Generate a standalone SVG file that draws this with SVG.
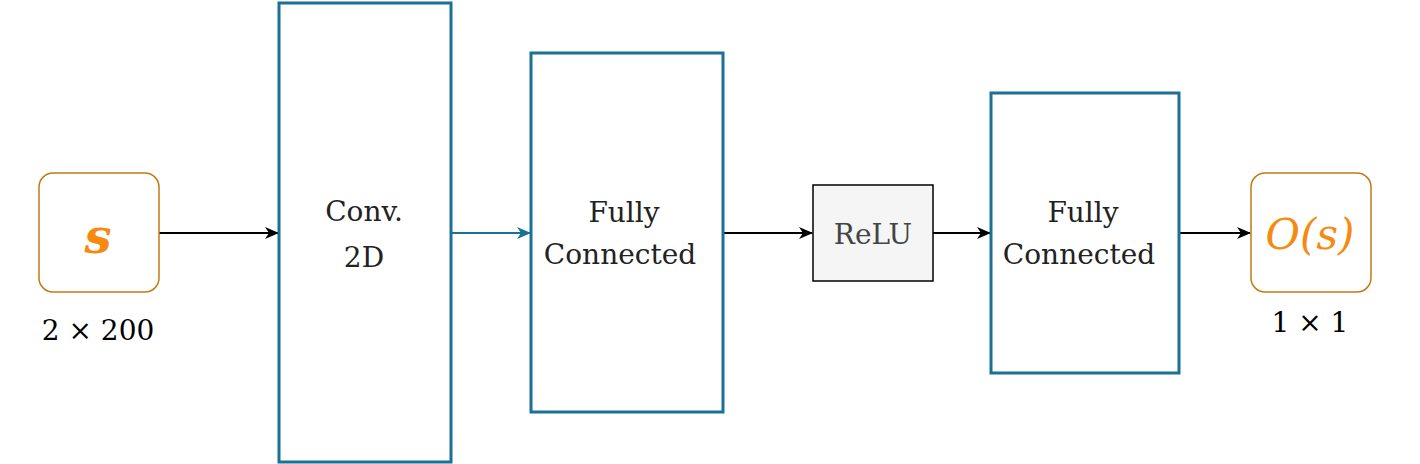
<svg xmlns="http://www.w3.org/2000/svg" width="1420" height="464" viewBox="0 0 1420 464">
<style>
.blk{fill:#fff;stroke:#1a7095;stroke-width:3}
.io{fill:#fff;stroke:#c27a12;stroke-width:1.5}
.t{font-family:"DejaVu Serif","Liberation Serif",serif;font-size:28px;fill:#222;text-anchor:middle}
.m{font-family:"DejaVu Serif","Liberation Serif",serif;font-style:italic;font-weight:bold;fill:#f58a0f;text-anchor:middle}
.c{stroke:#000;stroke-width:2;fill:none}
</style>
<defs>
<marker id="a" markerWidth="14" markerHeight="14" refX="13" refY="7" orient="auto" markerUnits="userSpaceOnUse"><path d="M0,1L14,7L0,13L4,7z" fill="#000"/></marker>
<marker id="b" markerWidth="14" markerHeight="14" refX="13" refY="7" orient="auto" markerUnits="userSpaceOnUse"><path d="M0,1L14,7L0,13L4,7z" fill="#1a7095"/></marker>
</defs>
<g id="connectors">
<line class="c" x1="159" y1="233" x2="278" y2="233" marker-end="url(#a)"/>
<line class="c" x1="451" y1="233" x2="530" y2="233" style="stroke:#1a7095" marker-end="url(#b)"/>
<line class="c" x1="723" y1="233" x2="812" y2="233" marker-end="url(#a)"/>
<line class="c" x1="933" y1="233" x2="990" y2="233" marker-end="url(#a)"/>
<line class="c" x1="1179" y1="233" x2="1250" y2="233" marker-end="url(#a)"/>
</g>
<g id="s"><rect class="io" x="39" y="173" width="120" height="119" rx="14"/><text class="m" x="98" y="253" font-size="48">s</text>
<text class="t" x="98" y="340" style="fill:#000">2 × 200</text></g>
<g id="conv"><rect class="blk" x="279" y="3" width="172" height="459"/><text class="t" x="364" y="221">Conv.</text><text class="t" x="364" y="267">2D</text></g>
<g id="fc1"><rect class="blk" x="531" y="53" width="192" height="359"/><text class="t" x="624" y="222">Fully</text><text class="t" x="620" y="264">Connected</text></g>
<g id="relu"><rect x="813" y="185" width="120" height="96" fill="#f5f5f5" stroke="#000" stroke-width="1.5"/><text class="t" x="873" y="244" style="fill:#444">ReLU</text></g>
<g id="fc2"><rect class="blk" x="991" y="93" width="188" height="280"/><text class="t" x="1083" y="222">Fully</text><text class="t" x="1079" y="264">Connected</text></g>
<g id="o"><rect class="io" x="1251" y="173" width="120" height="119" rx="14"/><text class="m" x="1310" y="249" font-size="42" style="font-weight:normal">O(s)</text>
<text class="t" x="1310" y="332" style="fill:#000">1 × 1</text></g>
</svg>
